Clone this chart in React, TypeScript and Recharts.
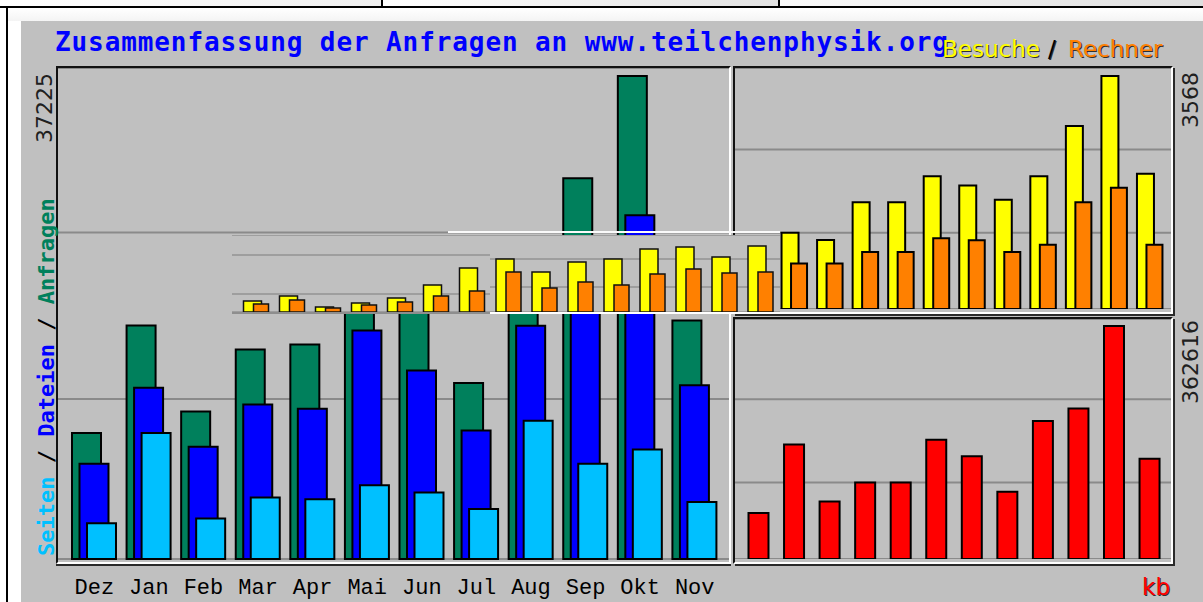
import React from 'react';
import { BarChart, Bar, XAxis, YAxis, CartesianGrid } from 'recharts';

const months = ['Dez', 'Jan', 'Feb', 'Mar', 'Apr', 'Mai', 'Jun', 'Jul', 'Aug', 'Sep', 'Okt', 'Nov'];
const anfragen = [9708, 17995, 11376, 16141, 16527, 23710, 20775, 13569, 20003, 29347, 37225, 18381];
const dateien = [7337, 13206, 8650, 11917, 11585, 17608, 14519, 9909, 17971, 22319, 26490, 13384];
const seiten = [2757, 9708, 3112, 4734, 4611, 5692, 5120, 3862, 10658, 7337, 8441, 4402];
const besuche = [820, 1166, 1058, 1635, 1635, 2034, 1891, 1672, 2034, 2801, 3568, 2071];
const rechner = [560, 695, 695, 874, 874, 1083, 1052, 874, 982, 1635, 1856, 982];
const kbytes = [71498, 178123, 89528, 119060, 119060, 185428, 160093, 104605, 214960, 234078, 362616, 155896];

// grid line values of the three panels
const hitsGrid = [12334, 25154];
const visitsGrid = [1166, 2444];
const kbGrid = [119060, 248688];

// the smaller pasted strip in the middle (15 pairs, heights in its own units)
const stripBesuche = [11, 16, 5, 9, 14, 27, 44, 53, 40, 50, 53, 63, 65, 55, 66];
const stripRechner = [8, 12, 4, 7, 10, 16, 21, 40, 24, 30, 27, 38, 43, 39, 40];
const stripGridLeft = [18, 38, 57];
const stripGridRight = [25, 53];
const stripSplit = 7;

const hitsMax = Math.max(...anfragen);
const visitsMax = Math.max(...besuche);
const kbMax = Math.max(...kbytes);

const hitsData = months.map((m, i) => ({ month: m, anfragen: anfragen[i], dateien: dateien[i], seiten: seiten[i] }));
const visitsData = months.map((m, i) => ({ month: m, besuche: besuche[i], rechner: rechner[i] }));
const kbData = months.map((m, i) => ({ month: m, kb: kbytes[i] }));
const stripData = stripBesuche.map((v, i) => ({ idx: String(i), besuche: v, rechner: stripRechner[i] }));

const GREY = '#c0c0c0';
const GRID = '#8a8a8a';
const MONO = '"DejaVu Sans Mono", "Liberation Mono", monospace';
const SANS = '"DejaVu Sans", "Liberation Sans", sans-serif';
const NOMARGIN = { top: 0, right: 0, bottom: 0, left: 0 };

const Panel = ({ left, top, width, height, shadow = '2px 2px 0 #2a2a2a' }: any) => (
    <div
        style={{
            position: 'absolute',
            left,
            top,
            width,
            height,
            boxSizing: 'border-box',
            borderTop: '2px solid #111',
            borderLeft: '2px solid #111',
            borderBottom: '2px solid #fff',
            borderRight: '2px solid #fff',
            boxShadow: shadow,
        }}
    />
);

const Shadowed = ({ x, y, fill, children, ...rest }: any) => (
    <>
        <text x={x + 1} y={y + 1} fill="#303030" {...rest}>{children}</text>
        <text x={x} y={y} fill={fill} {...rest}>{children}</text>
    </>
);

const StripChart = ({ data, width, grid, padLeft, padRight }: any) => (
    <BarChart width={width} height={77} data={data} margin={NOMARGIN} barGap={-8}>
        <CartesianGrid vertical={false} stroke="#939393" strokeWidth={1.5} />
        <XAxis dataKey="idx" hide padding={{ left: padLeft, right: padRight }} />
        <YAxis hide domain={[0, 77]} ticks={grid} />
        <Bar dataKey="besuche" fill="#ffff00" stroke="#111" strokeWidth={1.5} barSize={18} isAnimationActive={false} />
        <Bar dataKey="rechner" fill="#ff8000" stroke="#111" strokeWidth={1.5} barSize={15} isAnimationActive={false} />
    </BarChart>
);

export default function App() {
    return (
        <div style={{ position: 'absolute', left: 0, top: 0, width: 1203, height: 602, overflow: 'hidden', background: '#fff' }}>
            {/* top strip */}
            <div style={{ position: 'absolute', left: 0, top: 0, width: 381, height: 6, background: 'linear-gradient(90deg, #fff, #f0f0f0)' }} />
            <div style={{ position: 'absolute', left: 383, top: 0, width: 395, height: 6, background: 'linear-gradient(90deg, #fff, #e2e2e2)' }} />
            <div style={{ position: 'absolute', left: 780, top: 0, width: 423, height: 6, background: 'linear-gradient(90deg, #fafafa, #dedede)' }} />
            <div style={{ position: 'absolute', left: 381, top: 0, width: 2, height: 7, background: '#000' }} />
            <div style={{ position: 'absolute', left: 778, top: 0, width: 2, height: 7, background: '#000' }} />
            <div style={{ position: 'absolute', left: 0, top: 6, width: 1203, height: 2, background: '#000' }} />
            <div style={{ position: 'absolute', left: 6, top: 8, width: 2, height: 594, background: '#000' }} />
            <div style={{ position: 'absolute', left: 8, top: 8, width: 1195, height: 13, background: 'linear-gradient(180deg, #fff, #f4f4f4)' }} />

            {/* grey graph area */}
            <div style={{ position: 'absolute', left: 21, top: 21, width: 1182, height: 581, background: GREY }} />

            <Panel left={56} top={66} width={675} height={498} shadow="0 2px 0 #2a2a2a" />
            <Panel left={733} top={66} width={440} height={248} />
            <Panel left={733} top={317} width={440} height={247} />

            {/* Anfragen / Dateien / Seiten */}
            <div style={{ position: 'absolute', left: 58, top: 68 }}>
                <BarChart width={671} height={534} data={hitsData} margin={NOMARGIN} barGap={-21.5}>
                    <CartesianGrid vertical={false} stroke={GRID} strokeWidth={2} />
                    <XAxis
                        dataKey="month"
                        padding={{ left: 9, right: 7 }}
                        axisLine={false}
                        tickLine={false}
                        tickSize={0}
                        tickMargin={19}
                        height={43}
                        interval={0}
                        tick={{ fill: '#000', fontSize: 22, fontFamily: '"Liberation Mono", "DejaVu Sans Mono", monospace' }}
                    />
                    <YAxis hide domain={[0, hitsMax]} ticks={hitsGrid} padding={{ top: 8 }} />
                    <Bar dataKey="anfragen" fill="#00805c" stroke="#000" strokeWidth={2} barSize={29} isAnimationActive={false} />
                    <Bar dataKey="dateien" fill="#0000ff" stroke="#000" strokeWidth={2} barSize={29} isAnimationActive={false} />
                    <Bar dataKey="seiten" fill="#00c0ff" stroke="#000" strokeWidth={2} barSize={29} isAnimationActive={false} />
                </BarChart>
            </div>

            {/* Besuche / Rechner */}
            <div style={{ position: 'absolute', left: 735, top: 68 }}>
                <BarChart width={436} height={241} data={visitsData} margin={NOMARGIN} barGap={-7.5}>
                    <CartesianGrid vertical={false} stroke={GRID} strokeWidth={2} />
                    <XAxis dataKey="month" hide padding={{ left: 6, right: 3.5 }} />
                    <YAxis hide domain={[0, visitsMax]} ticks={visitsGrid} padding={{ top: 8 }} />
                    <Bar dataKey="besuche" fill="#ffff00" stroke="#000" strokeWidth={2} barSize={17} isAnimationActive={false} />
                    <Bar dataKey="rechner" fill="#ff8000" stroke="#000" strokeWidth={2} barSize={16} isAnimationActive={false} />
                </BarChart>
            </div>

            {/* kb */}
            <div style={{ position: 'absolute', left: 735, top: 319 }}>
                <BarChart width={436} height={240} data={kbData} margin={NOMARGIN}>
                    <CartesianGrid vertical={false} stroke={GRID} strokeWidth={2} />
                    <XAxis dataKey="month" hide padding={{ left: 5.5, right: 3.9 }} />
                    <YAxis hide domain={[0, kbMax]} ticks={kbGrid} padding={{ top: 7 }} />
                    <Bar dataKey="kb" fill="#ff0000" stroke="#000" strokeWidth={2} barSize={20} isAnimationActive={false} />
                </BarChart>
            </div>

            {/* pasted strip */}
            <div style={{ position: 'absolute', left: 232, top: 235, width: 258, height: 77, background: GREY, borderBottom: '2px solid #8e8e8e' }}>
                <StripChart data={stripData.slice(0, stripSplit)} width={258} grid={stripGridLeft} padLeft={5.5} padRight={0.5} />
            </div>
            <div style={{ position: 'absolute', left: 490, top: 235, width: 290, height: 77, background: GREY, borderBottom: '2px solid #fff' }}>
                <StripChart data={stripData.slice(stripSplit)} width={290} grid={stripGridRight} padLeft={0} padRight={2} />
            </div>
            <div style={{ position: 'absolute', left: 448, top: 231, width: 332, height: 2, background: '#fafafa' }} />

            {/* texts */}
            <svg width={1203} height={602} style={{ position: 'absolute', left: 0, top: 0, pointerEvents: 'none' }}>
                <text x={55} y={51} fontFamily={MONO} fontWeight="bold" fontSize={26} letterSpacing={0.9} fill="#0000ff">
                    Zusammenfassung der Anfragen an www.teilchenphysik.org
                </text>
                <Shadowed x={942} y={57} fill="#ffff00" fontFamily={SANS} fontSize={23}>Besuche</Shadowed>
                <Shadowed x={1048} y={57} fill="#000" fontFamily={SANS} fontSize={23}>/</Shadowed>
                <Shadowed x={1068} y={57} fill="#ff8000" fontFamily={SANS} fontSize={23}>Rechner</Shadowed>

                <text transform="translate(54,556) rotate(-90)" fontFamily={MONO} fontWeight="bold" fontSize={22}>
                    <tspan fill="#00c0ff">Seiten</tspan>
                    <tspan fill="#000"> / </tspan>
                    <tspan fill="#0000ff">Dateien</tspan>
                    <tspan fill="#000"> / </tspan>
                    <tspan fill="#00805c">Anfragen</tspan>
                </text>
                <text transform="translate(52,73) rotate(-90)" textAnchor="end" fontFamily={SANS} fontSize={22} fill="#202020">
                    {hitsMax}
                </text>
                <text transform="translate(1198,72) rotate(-90)" textAnchor="end" fontFamily={SANS} fontSize={22} fill="#202020">
                    {visitsMax}
                </text>
                <text transform="translate(1198,320) rotate(-90)" textAnchor="end" fontFamily={SANS} fontSize={22} fill="#202020">
                    {kbMax}
                </text>
                <Shadowed x={1170} y={595} fill="#ff0000" fontFamily={SANS} fontSize={23} textAnchor="end">kb</Shadowed>
            </svg>
        </div>
    );
}
